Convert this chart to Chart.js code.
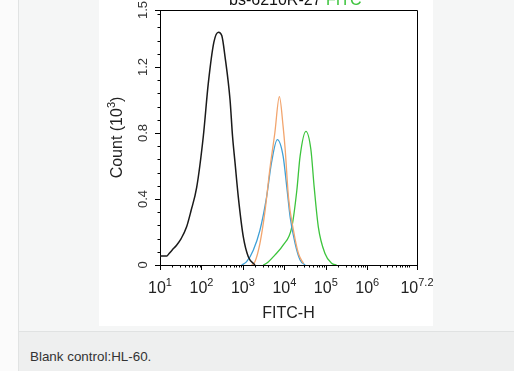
<!DOCTYPE html>
<html>
<head>
<meta charset="utf-8">
<script src="https://cdn.jsdelivr.net/npm/chart.js@4/dist/chart.umd.min.js"></script>
<style>
  body { margin: 0; width: 514px; height: 371px; background: #fbfbfb; position: relative; overflow: hidden; font-family: "Liberation Sans", Arial, sans-serif; }
  .frame { position: absolute; left: 18px; top: 0; right: 0; bottom: 0; background: #f5f6f6; border-left: 1px solid #e1e3e3; }
  .panel { position: absolute; left: 99px; top: 0; width: 334px; height: 326px; background: #fff; }
  .band { position: absolute; left: 19px; right: 0; top: 331px; bottom: 0; background: #eeefef; border-top: 1px solid #e0e2e2; }
  .caption { position: absolute; left: 30px; top: 350px; font-size: 13.4px; line-height: 13px; color: #333; }
</style>
</head>
<body>
<div class="frame"></div>
<div class="band"></div>
<div class="panel"><canvas id="histo" width="334" height="326"></canvas></div>
<div class="caption">Blank control:HL-60.</div>
<script>
// x values are log10(FITC-H), y values are counts in 10^3
const blankLog = [1.00, 1.17, 1.22, 1.29, 1.40, 1.51, 1.64, 1.75, 1.885, 2.045, 2.165, 2.30, 2.41, 2.49, 2.57, 2.69, 2.75, 2.81, 2.89, 3.01, 3.13, 3.29];
const blankCount = [0.055, 0.055, 0.07, 0.09, 0.12, 0.16, 0.23, 0.33, 0.47, 0.78, 1.10, 1.35, 1.41, 1.39, 1.26, 1.00, 0.78, 0.62, 0.41, 0.17, 0.05, 0.00];

const orangeLog = [3.21, 3.29, 3.41, 3.53, 3.65, 3.77, 3.88, 3.97, 4.02, 4.10, 4.22, 4.34, 4.46];
const orangeCount = [0, 0.02, 0.13, 0.32, 0.58, 0.80, 1.02, 0.84, 0.70, 0.41, 0.21, 0.07, 0.01];

const blueLog = [2.97, 3.09, 3.25, 3.41, 3.57, 3.69, 3.83, 3.97, 4.06, 4.14, 4.26, 4.38, 4.50];
const blueCount = [0, 0.02, 0.09, 0.21, 0.41, 0.62, 0.76, 0.66, 0.47, 0.29, 0.13, 0.03, 0];

const greenLog = [3.49, 3.57, 3.77, 3.97, 4.18, 4.30, 4.38, 4.52, 4.64, 4.72, 4.82, 4.98, 5.14, 5.26];
const greenCount = [0, 0.01, 0.06, 0.12, 0.23, 0.45, 0.66, 0.81, 0.70, 0.47, 0.23, 0.07, 0.01, 0];

const xDecades = [1, 2, 3, 4, 5, 6];
const xEndLabel = "7.2";
const yTicks = [0, 0.4, 0.8, 1.2];
const yTopLabel = "1.5";

const pts = (xs, ys) => xs.map((v, i) => ({ x: v, y: ys[i] }));

function line(label, xs, ys, color, width) {
  return { label: label, data: pts(xs, ys), borderColor: color, borderWidth: width, pointRadius: 0, fill: false };
}

// frame, tick marks and labels drawn from the chart's scales
const axisDecor = {
  id: "axisDecor",
  afterDraw(chart) {
    const { ctx, chartArea: a, scales: { x, y } } = chart;
    ctx.save();
    ctx.strokeStyle = "#000";
    ctx.lineWidth = 1;
    ctx.beginPath();
    ctx.moveTo(Math.round(a.left) + 0.5, Math.round(a.top) + 0.5);
    ctx.lineTo(Math.round(a.right) + 0.5, Math.round(a.top) + 0.5);
    ctx.lineTo(Math.round(a.right) + 0.5, Math.round(a.bottom) + 0.5);
    ctx.stroke();

    // x ticks
    ctx.beginPath();
    for (let d = 1; d <= 7; d++) {
      for (let k = 1; k <= 9; k++) {
        const v = d + Math.log10(k);
        if (v > x.max) continue;
        const px = Math.round(x.getPixelForValue(v)) + 0.5;
        const len = (k === 1 && d < 7) ? 5 : 2.5;
        ctx.moveTo(px, a.bottom);
        ctx.lineTo(px, a.bottom + len);
      }
    }
    const pe = Math.round(x.getPixelForValue(x.max)) + 0.5;
    ctx.moveTo(pe, a.bottom);
    ctx.lineTo(pe, a.bottom + 5);
    // y ticks
    for (let i = 1; i * 0.08 < y.max; i++) {
      const v = i * 0.08;
      const py = Math.round(y.getPixelForValue(v)) + 0.5;
      ctx.moveTo(a.left, py);
      ctx.lineTo(a.left - 2.5, py);
    }
    yTicks.concat([y.max]).forEach(v => {
      const py = Math.round(y.getPixelForValue(v)) + 0.5;
      ctx.moveTo(a.left, py);
      ctx.lineTo(a.left - 5, py);
    });
    ctx.stroke();

    ctx.fillStyle = "#222";
    ctx.textBaseline = "alphabetic";
    const base = '16px "Liberation Sans", Arial, sans-serif';
    const sup = '11px "Liberation Sans", Arial, sans-serif';
    const xLabel = (px, s) => {
      ctx.font = base;
      const w1 = ctx.measureText("10").width;
      ctx.font = sup;
      const w2 = ctx.measureText(s).width;
      const x0 = px - (w1 + w2) / 2;
      ctx.textAlign = "left";
      ctx.font = base;
      ctx.fillText("10", x0, 293);
      ctx.font = sup;
      ctx.fillText(s, x0 + w1, 286);
    };
    xDecades.forEach(d => xLabel(x.getPixelForValue(d), String(d)));
    xLabel(x.getPixelForValue(x.max), xEndLabel);

    ctx.font = base;
    ctx.textAlign = "center";
    ctx.fillText("FITC-H", (a.left + a.right) / 2, 318);

    // y labels, rotated
    ctx.font = '13px "Liberation Sans", Arial, sans-serif';
    ctx.fillStyle = "#333";
    const yLabel = (py, s) => {
      ctx.save();
      ctx.translate(a.left - 17, py);
      ctx.rotate(-Math.PI / 2);
      ctx.textAlign = "center";
      ctx.textBaseline = "middle";
      ctx.fillText(s, 0, 0);
      ctx.restore();
    };
    yTicks.forEach(v => yLabel(y.getPixelForValue(v), String(v)));
    yLabel(y.getPixelForValue(y.max), yTopLabel);

    // y title
    ctx.fillStyle = "#222";
    ctx.save();
    ctx.translate(a.left - 38, (a.top + a.bottom) / 2);
    ctx.rotate(-Math.PI / 2);
    ctx.textAlign = "left";
    ctx.textBaseline = "alphabetic";
    ctx.font = base;
    const t1 = "Count (10", t3 = ")";
    const w1 = ctx.measureText(t1).width, w3 = ctx.measureText(t3).width;
    ctx.font = sup;
    const w2 = ctx.measureText("3").width;
    let u = -(w1 + w2 + w3) / 2;
    ctx.font = base;
    ctx.fillText(t1, u, 0);
    ctx.font = sup;
    ctx.fillText("3", u + w1, -7);
    ctx.font = base;
    ctx.fillText(t3, u + w1 + w2, 0);
    ctx.restore();

    // header, cut off at the top edge
    ctx.font = base;
    ctx.textAlign = "left";
    ctx.fillStyle = "#111";
    ctx.fillText("bs-6210R-27", 130, 5);
    const hw = ctx.measureText("bs-6210R-27 ").width;
    ctx.fillStyle = "#3cc43c";
    ctx.fillText("FITC", 130 + hw, 5);
    ctx.restore();
  }
};

new Chart(document.getElementById("histo"), {
  type: "line",
  data: {
    datasets: [
      line("Blank control", blankLog, blankCount, "#1a1a1a", 1.5),
      line("Orange", orangeLog, orangeCount, "#f2a56e", 1.3),
      line("Blue", blueLog, blueCount, "#3d9fd6", 1.3),
      line("Green", greenLog, greenCount, "#3cc43c", 1.3),
    ],
  },
  options: {
    responsive: false,
    animation: false,
    events: [],
    layout: { padding: { left: 61, top: 10, right: 16, bottom: 61 } },
    elements: { line: { cubicInterpolationMode: "monotone" } },
    plugins: { legend: { display: false }, tooltip: { enabled: false } },
    scales: {
      x: { type: "linear", min: 1, max: 7.2, grid: { display: false, drawTicks: false }, ticks: { display: false }, border: { color: "#000", width: 1 } },
      y: { type: "linear", min: 0, max: 1.545, grid: { display: false, drawTicks: false }, ticks: { display: false }, border: { color: "#000", width: 1 } },
    },
  },
  plugins: [axisDecor],
});
</script>
</body>
</html>
